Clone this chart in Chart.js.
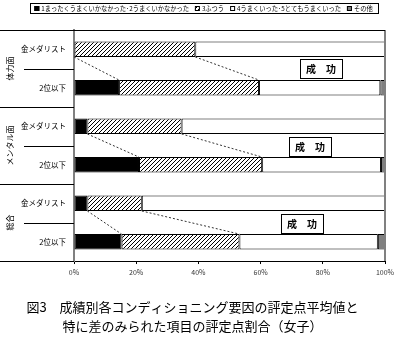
<!DOCTYPE html>
<html>
<head>
<meta charset="utf-8">
<script src="https://cdn.jsdelivr.net/npm/chart.js@4/dist/chart.umd.min.js"></script>
<style>
html, body { margin: 0; padding: 0; background: #fff; }
#wrap { width: 400px; height: 342px; }
</style>
</head>
<body>
<div id="wrap"><canvas id="chart" width="400" height="342"></canvas></div>
<script>
const groups = ['体力面', 'メンタル面', '総合']
const categories = ['金メダリスト', '2位以下', '金メダリスト', '2位以下', '金メダリスト', '2位以下']
const seriesLabels = ['1まったくうまくいかなかった･2うまくいかなかった', '3ふつう', '4うまくいった･5とてもうまくいった', 'その他']
const bad = [0, 14.5, 4.3, 20.9, 4.3, 15.3]
const normal = [39, 45, 30.3, 39.6, 17.5, 37.9]
const good = [61, 39, 65.4, 38.2, 78.2, 44.5]
const other = [0, 1.5, 0, 1.3, 0, 2.3]
const tickLabels = ['0%', '20%', '40%', '60%', '80%', '100%']
const titleLines = ['図3　成績別各コンディショニング要因の評定点平均値と', '特に差のみられた項目の評定点割合（女子）']
const note = '成　功'

const font = '"Noto Sans CJK JP", sans-serif'
const canvas = document.getElementById('chart')

// diagonal hatch for "3ふつう"
const hatch = (() => {
    const c = document.createElement('canvas')
    c.width = 4; c.height = 4
    const g = c.getContext('2d')
    g.fillStyle = '#fff'
    g.fillRect(0, 0, 4, 4)
    g.strokeStyle = '#000'
    g.lineWidth = 1
    g.beginPath()
    g.moveTo(0, 4); g.lineTo(4, 0)
    g.moveTo(-1, 1); g.lineTo(1, -1)
    g.moveTo(3, 5); g.lineTo(5, 3)
    g.stroke()
    return canvas.getContext('2d').createPattern(c, 'repeat')
})()

const fills = ['#000', hatch, '#fff', '#808080']

const extras = {
    id: 'extras',
    afterDraw(chart) {
        const { ctx, chartArea: a, scales: { x, y } } = chart
        ctx.save()

        // right frame
        ctx.strokeStyle = '#808080'
        ctx.lineWidth = 2
        ctx.beginPath()
        ctx.moveTo(a.right, a.top); ctx.lineTo(a.right, a.bottom)
        ctx.stroke()

        // top line + category separators on the left
        const step = y.getPixelForValue(1) - y.getPixelForValue(0)
        ctx.strokeStyle = '#000'
        ctx.lineWidth = 1
        ctx.beginPath()
        ctx.moveTo(0, a.top + 0.5); ctx.lineTo(a.right, a.top + 0.5)
        for (let i = 0; i < categories.length; i++) {
            const yb = Math.round(y.getPixelForValue(i) + step / 2) + 0.5
            const x0 = i % 2 === 0 ? 24 : 0
            ctx.moveTo(x0, yb); ctx.lineTo(a.left, yb)
        }
        ctx.stroke()

        // group labels (vertical)
        ctx.fillStyle = '#000'
        ctx.font = '8px ' + font
        ctx.textAlign = 'center'
        ctx.textBaseline = 'middle'
        groups.forEach((g, k) => {
            const cy = (y.getPixelForValue(2 * k) + y.getPixelForValue(2 * k + 1)) / 2
            ctx.save()
            ctx.translate(10, cy)
            ctx.rotate(-Math.PI / 2)
            ctx.fillText(g, 0, 0)
            ctx.restore()
        })

        // series lines between 金メダリスト and 2位以下
        const half = step * 0.4 / 2
        ctx.strokeStyle = '#333'
        ctx.setLineDash([2, 2])
        ctx.beginPath()
        for (let k = 0; k < groups.length; k++) {
            const i = 2 * k, j = 2 * k + 1
            const yt = y.getPixelForValue(i) + half
            const yb = y.getPixelForValue(j) - half
            const c1 = [bad[i], bad[j]]
            const c2 = [bad[i] + normal[i], bad[j] + normal[j]]
            ;[c1, c2].forEach(c => {
                ctx.moveTo(x.getPixelForValue(c[0]), yt)
                ctx.lineTo(x.getPixelForValue(c[1]), yb)
            })
        }
        ctx.stroke()
        ctx.setLineDash([])

        // 成功 boxes
        const boxes = [[300, 59], [289, 137], [281, 214]]
        ctx.font = 'bold 10px ' + font
        boxes.forEach(([bx, by]) => {
            ctx.fillStyle = '#fff'
            ctx.fillRect(bx, by, 42, 19)
            ctx.strokeStyle = '#000'
            ctx.lineWidth = 1
            ctx.strokeRect(bx + 0.5, by + 0.5, 42, 19)
            ctx.fillStyle = '#000'
            ctx.fillText(note, bx + 21, by + 10)
        })

        // legend, shrunk to fit its box
        ctx.font = '10px ' + font
        const raw = seriesLabels.map(s => ctx.measureText(s).width)
        const rawSum = raw.reduce((s, w) => s + w, 0)
        const room = 340 - seriesLabels.length * 8 - 5 * (seriesLabels.length - 1)
        const size = Math.min(7, 10 * room / rawSum)
        ctx.font = size + 'px ' + font
        ctx.textAlign = 'left'
        const widths = seriesLabels.map(s => ctx.measureText(s).width)
        const total = widths.reduce((s, w) => s + w + 8, 0) + 5 * (seriesLabels.length - 1)
        let lx = 204 - total / 2
        ctx.strokeStyle = '#000'
        ctx.strokeRect(30.5, 3.5, 348, 10)
        seriesLabels.forEach((s, k) => {
            ctx.fillStyle = fills[k]
            ctx.fillRect(lx, 6, 5, 5)
            ctx.strokeRect(lx + 0.5, 6.5, 4, 4)
            ctx.fillStyle = '#000'
            ctx.fillText(s, lx + 7, 9)
            lx += widths[k] + 8 + 5
        })

        ctx.restore()
    }
}

new Chart(canvas, {
    type: 'bar',
    data: {
        labels: categories,
        datasets: [bad, normal, good, other].map((d, k) => ({
            label: seriesLabels[k],
            data: d,
            backgroundColor: fills[k],
            borderColor: '#000',
            borderWidth: 1,
            borderSkipped: false,
            barPercentage: 0.4,
            categoryPercentage: 1
        }))
    },
    options: {
        indexAxis: 'y',
        responsive: false,
        animation: false,
        layout: { padding: { top: 30, right: 15, left: 0, bottom: 0 } },
        plugins: {
            legend: { display: false },
            tooltip: { enabled: false },
            title: {
                display: true,
                position: 'bottom',
                text: titleLines,
                color: '#000',
                font: { family: font, size: 13, weight: 'normal', lineHeight: 1.46 },
                padding: { top: 17, bottom: 6 }
            }
        },
        scales: {
            x: {
                stacked: true,
                min: 0,
                max: 100,
                ticks: {
                    stepSize: 20,
                    callback: (v, i) => tickLabels[i],
                    color: '#333',
                    font: { family: font, size: 7 },
                    padding: 4,
                    maxRotation: 0
                },
                grid: { drawOnChartArea: false, tickLength: 3, color: '#000' },
                border: { color: '#000', width: 1 },
                afterFit(s) { s.height = 20 }
            },
            y: {
                stacked: true,
                ticks: { color: '#000', font: { family: font, size: 7.5 }, padding: 8 },
                grid: { display: false, drawTicks: false },
                border: { color: '#808080', width: 2 },
                afterFit(s) { s.width = 74 }
            }
        }
    },
    plugins: [extras]
})
</script>
</body>
</html>
